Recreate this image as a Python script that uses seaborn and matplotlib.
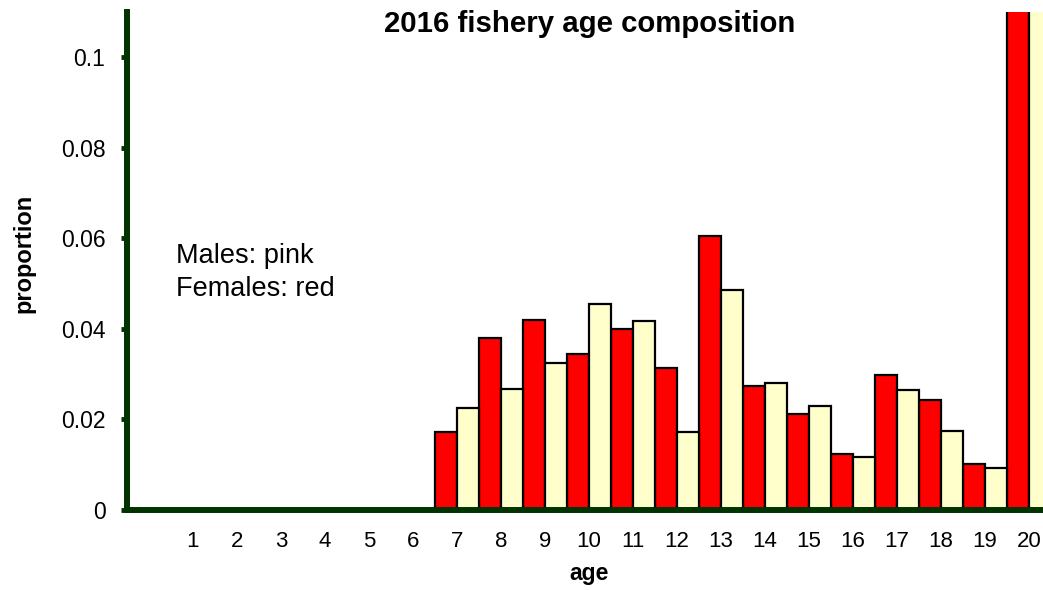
import numpy as np
import pandas as pd
import matplotlib
matplotlib.use("Agg")
import matplotlib.pyplot as plt
import seaborn as sns

ages = list(range(1, 21))
females = [0, 0, 0, 0, 0, 0, 0.0172, 0.0379, 0.0419, 0.0344, 0.0399, 0.0313,
           0.0606, 0.0274, 0.0213, 0.0124, 0.0299, 0.0243, 0.0102, 0.150]
males = [0, 0, 0, 0, 0, 0, 0.0226, 0.0267, 0.0324, 0.0454, 0.0417, 0.0172,
         0.0487, 0.0281, 0.0229, 0.0118, 0.0266, 0.0174, 0.0093, 0.150]
y_ticks = [0, 0.02, 0.04, 0.06, 0.08, 0.1]
y_tick_labels = ["0", "0.02", "0.04", "0.06", "0.08", "0.1"]
title = "2016 fishery age composition"
note_lines = ["Males: pink", "Females: red"]

df = pd.DataFrame({
    "age": ages * 2,
    "proportion": females + males,
    "sex": ["F"] * len(ages) + ["M"] * len(ages),
})

sns.set_style("white")
plt.rcParams["font.family"] = ["Liberation Sans", "DejaVu Sans"]
for k in ["text.color", "axes.labelcolor", "xtick.labelcolor", "ytick.labelcolor"]:
    plt.rcParams[k] = "black"

W, H = 1043, 590
fig = plt.figure(figsize=(W / 100, H / 100), dpi=100)
ax = fig.add_axes([127 / W, 80 / H, 924 / W, 498 / H])

sns.barplot(data=df, x="age", y="proportion", hue="sex", hue_order=["F", "M"],
            palette={"F": "#FF0000", "M": "#FFFFCC"}, saturation=1,
            native_scale=True, width=1.0, gap=0, edgecolor="black",
            linewidth=1.6, legend=False, ax=ax, errorbar=None)

ax.set_xlim(-0.5, 20.5)
ax.set_ylim(0, 0.11)

green = "#003300"
for s in ["top", "right"]:
    ax.spines[s].set_visible(False)
for s in ["left", "bottom"]:
    ax.spines[s].set_color(green)
    ax.spines[s].set_linewidth(4.3)
    ax.spines[s].set_zorder(5)

ax.set_xticks(ages)
ax.set_xticklabels([str(a) for a in ages])
ax.set_xticks(np.arange(-0.5, 21, 1.0), minor=True)
ax.tick_params(axis="x", which="major", length=0, pad=15, labelsize=16,
               labelcolor="black")
ax.tick_params(axis="x", which="minor", length=4, width=3.5, color=green,
               direction="out")
ax.set_yticks(y_ticks)
ax.set_yticklabels(y_tick_labels)
ax.tick_params(axis="y", which="major", length=4, width=3.5, color=green,
               direction="out", pad=11.5, labelsize=16.5, left=True,
               labelcolor="black")

ax.set_xlabel("age", fontsize=16.5, fontweight="bold", labelpad=7)
ax.set_ylabel("proportion", fontsize=17, fontweight="bold", va="center")
ax.yaxis.set_label_coords((24 - 127) / 924, (510 - 253) / 498)

fig.text(590 / W, 1 - 32 / H, title, ha="center", va="baseline",
         fontsize=21.2, fontweight="bold")
fig.text(176 / W, 1 - 263 / H, note_lines[0], ha="left", va="baseline",
         fontsize=19.5)
fig.text(176 / W, 1 - 296 / H, note_lines[1], ha="left", va="baseline",
         fontsize=19.5)

fig.savefig("out.png", dpi=100)
